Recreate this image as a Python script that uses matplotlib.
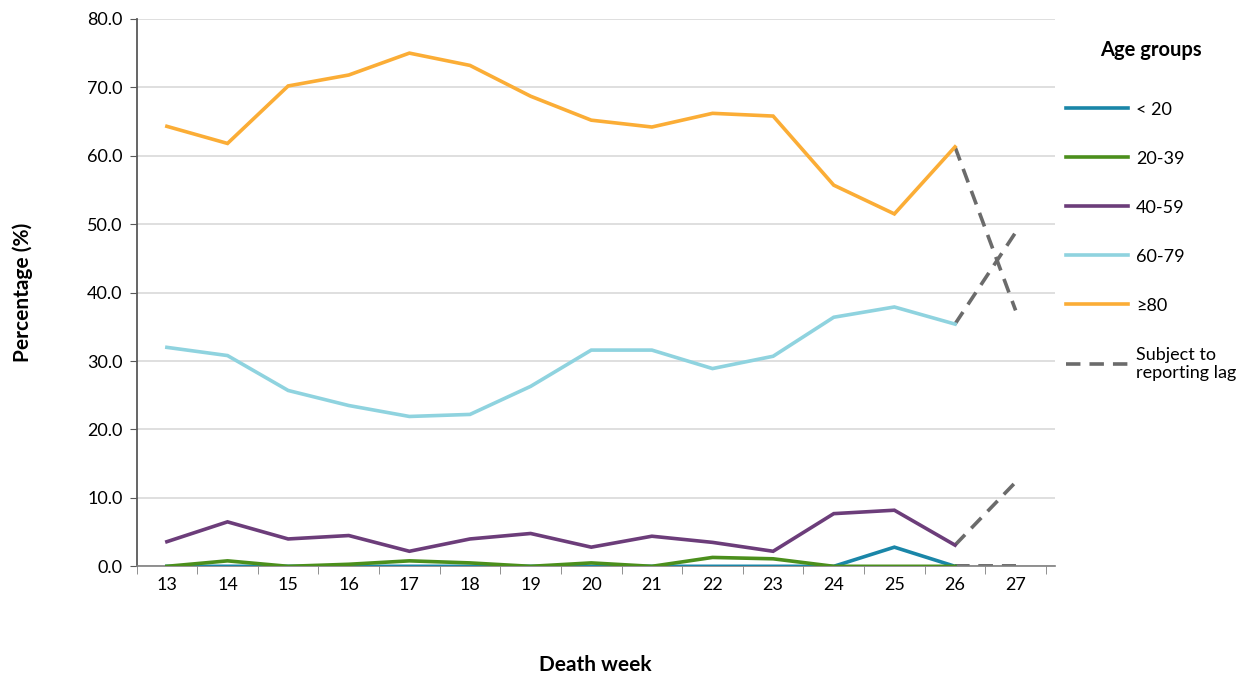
import numpy as np
import matplotlib.pyplot as plt
from matplotlib.lines import Line2D

plt.rcParams['font.family'] = ['Lato', 'DejaVu Sans']

# Death weeks
weeks = [13, 14, 15, 16, 17, 18, 19, 20, 21, 22, 23, 24, 25, 26, 27]

# Percentage of deaths by age group (week 27 subject to reporting lag)
under20 = [0.0, 0.0, 0.0, 0.0, 0.0, 0.0, 0.0, 0.0, 0.0, 0.0, 0.0, 0.0, 2.8, 0.0, 0.0]
age20_39 = [0.0, 0.8, 0.0, 0.3, 0.8, 0.5, 0.0, 0.5, 0.0, 1.3, 1.1, 0.0, 0.0, 0.0, 0.0]
age40_59 = [3.6, 6.5, 4.0, 4.5, 2.2, 4.0, 4.8, 2.8, 4.4, 3.5, 2.2, 7.7, 8.2, 3.1, 12.3]
age60_79 = [32.0, 30.8, 25.7, 23.5, 21.9, 22.2, 26.3, 31.6, 31.6, 28.9, 30.7, 36.4, 37.9, 35.4, 48.8]
age80 = [64.3, 61.8, 70.2, 71.8, 75.0, 73.2, 68.7, 65.2, 64.2, 66.2, 65.8, 55.7, 51.5, 61.3, 37.4]

labels = ['< 20', '20-39', '40-59', '60-79', '\u226580']
colors = ['#1a86a8', '#4b8f1c', '#6c3d7a', '#8fd3df', '#fbad36']
series = [under20, age20_39, age40_59, age60_79, age80]
lag_color = '#6b6b6b'

fig = plt.figure(figsize=(12.53, 6.75), dpi=100)
ax = fig.add_axes([0.109, 0.161, 0.733, 0.811])

x = np.array(weeks)
for vals in series:
    v = np.array(vals)
    # dashed part for the lagged last week
    ax.plot(x[-2:], v[-2:], color=lag_color, lw=2.6, ls=(0, (4, 2.5)), zorder=2)
for vals, col in zip(series, colors):
    v = np.array(vals)
    ax.plot(x[:-1], v[:-1], color=col, lw=2.6, zorder=3, solid_joinstyle='miter')

ax.set_xlim(12.5, 27.65)
ax.set_ylim(0, 80)
ax.set_yticks(np.arange(0, 81, 10))
ax.set_yticklabels([f'{t:.1f}' for t in np.arange(0, 81, 10)])
ax.set_xticks(weeks)
ax.set_xticks(np.arange(12.5, 28, 1), minor=True)
ax.tick_params(axis='x', which='major', length=0, pad=8, labelsize=13)
ax.tick_params(axis='x', which='minor', length=6, color='#7f7f7f')
ax.tick_params(axis='y', length=5, color='#595959', labelsize=13, pad=5)

ax.grid(axis='y', color='#d9d9d9', lw=1.2)
ax.set_axisbelow(True)
for s in ['top', 'right']:
    ax.spines[s].set_visible(False)
ax.spines['left'].set_color('#595959')
ax.spines['left'].set_linewidth(1.3)
ax.spines['bottom'].set_color('#7f7f7f')
ax.spines['bottom'].set_linewidth(1.2)

ax.set_xlabel('Death week', fontsize=15, fontweight='bold', labelpad=44)
ax.set_ylabel('Percentage (%)', fontsize=15, fontweight='bold', labelpad=39)

handles = [Line2D([0], [0], color=c, lw=2.6) for c in colors]
handles.append(Line2D([0], [0], color=lag_color, lw=2.6, ls=(0, (4, 2.5))))
leg = fig.legend(handles, labels + ['Subject to\nreporting lag'],
                 title='Age groups', loc='upper left',
                 bbox_to_anchor=(0.838, 0.965), frameon=False,
                 fontsize=13, title_fontproperties={'weight': 'bold', 'size': 14.5},
                 handlelength=3.4, handletextpad=0.45, labelspacing=1.83)
leg._legend_box.sep = 30
leg.get_title().set_ha('right')

fig.savefig('out.png', dpi=100)
